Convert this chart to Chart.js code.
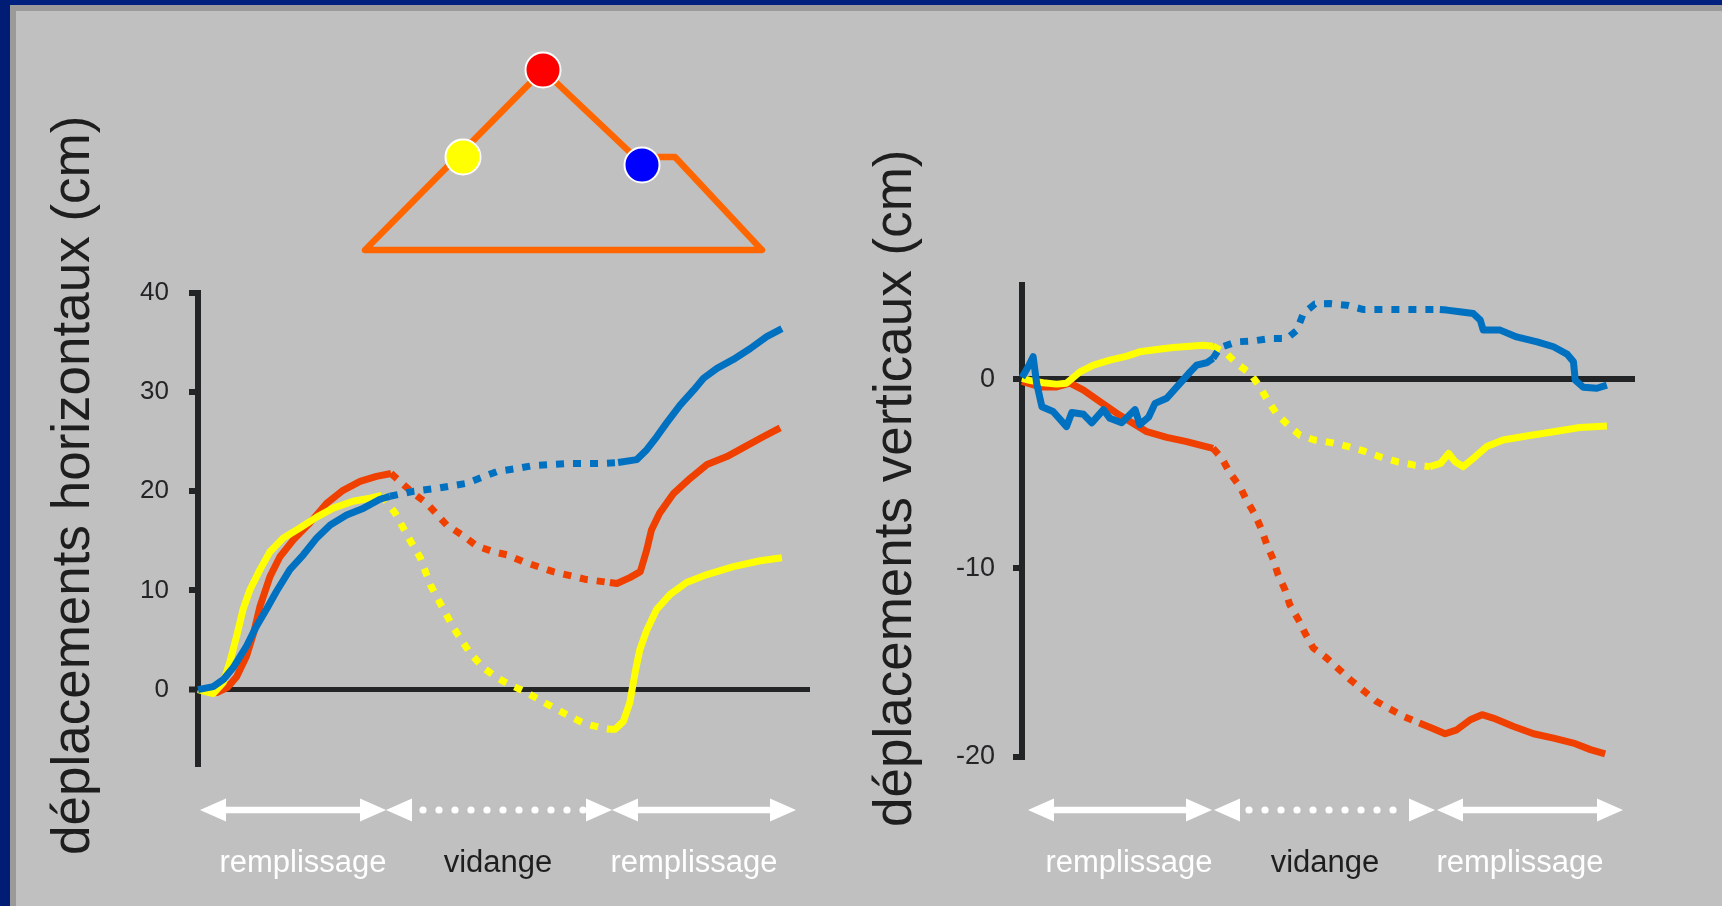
<!DOCTYPE html>
<html><head><meta charset="utf-8">
<script src="https://cdn.jsdelivr.net/npm/chart.js@4.4.1/dist/chart.umd.min.js"></script>
<style>
html,body{margin:0;padding:0;}
body{width:1722px;height:906px;background:#c0c0c0;position:relative;overflow:hidden;font-family:'Liberation Sans',Arial,sans-serif;}
.bar{position:absolute;}
canvas{position:absolute;top:0;}
.ytitle{position:absolute;transform:rotate(-90deg);transform-origin:0 0;white-space:nowrap;font-size:53px;line-height:53px;color:#1e1e1e;}
.phase{position:absolute;top:846px;font-size:31px;line-height:31px;white-space:nowrap;transform:translateX(-50%);}
.w{color:#ffffff;} .d{color:#1e1e1e;}
svg{position:absolute;left:0;top:0;}
</style>
</head><body>
<div class="bar" style="left:0;top:0;width:1722px;height:5px;background:#00207f"></div>
<div class="bar" style="left:10px;top:5px;width:1712px;height:6px;background:#9a9a9a"></div>
<div class="bar" style="left:0;top:0;width:10px;height:906px;background:#001c74"></div>
<div class="bar" style="left:10px;top:5px;width:6px;height:901px;background:#9a9a9a"></div>

<canvas id="cL" width="860" height="906" style="left:0"></canvas>
<canvas id="cR" width="862" height="906" style="left:860px"></canvas>

<svg width="1722" height="906" viewBox="0 0 1722 906">
  <polygon points="365,250 543,70 635,157 675,157 762,250" fill="none" stroke="#ff6600" stroke-width="6.5" stroke-linejoin="round"/>
  <circle cx="543" cy="70" r="17.5" fill="#ff0000" stroke="#ffffff" stroke-width="2"/>
  <circle cx="463" cy="157" r="17.5" fill="#ffff00" stroke="#ffffff" stroke-width="2"/>
  <circle cx="642" cy="165" r="17.5" fill="#0000ff" stroke="#ffffff" stroke-width="2"/>
  <g id="arrows" fill="#ffffff"></g>
</svg>

<div class="ytitle" style="left:44px;top:855px">déplacements horizontaux (cm)</div>
<div class="ytitle" style="left:866px;top:827px">déplacements verticaux (cm)</div>

<div class="phase w" style="left:303px">remplissage</div>
<div class="phase d" style="left:498px">vidange</div>
<div class="phase w" style="left:694px">remplissage</div>
<div class="phase w" style="left:1129px">remplissage</div>
<div class="phase d" style="left:1325px">vidange</div>
<div class="phase w" style="left:1520px">remplissage</div>

<script>
// ---------- DATA (left chart: horizontal displacements, cm) ----------
const leftTicks = [0, 10, 20, 30, 40];
const leftBlueT = [0,2.6,4.3,6.0,8.3,10.0,11.7,13.4,15.7,18.0,20.3,22.6,25.4,28.3,31.1,32.8,36.8,40.8,45.9,51.1,54.5,57.3,63.0,68.7,71.8,75.0,76.7,78.4,80.1,82.4,84.7,86.4,88.7,91.5,94.4,97.2,99.8];
const leftBlueV = [0,0.3,1.0,2.2,4.4,6.4,8.1,9.9,12.1,13.6,15.3,16.6,17.6,18.3,19.2,19.5,20.0,20.3,20.8,22.0,22.3,22.6,22.8,22.8,22.9,23.2,24.2,25.5,26.9,28.7,30.2,31.4,32.4,33.3,34.4,35.6,36.4];
const leftRedT = [0,3.2,5.0,6.6,8.3,9.5,10.6,12.3,14.0,16.3,19.1,22.0,24.8,27.7,30.5,33.0,34.5,36.8,39.1,42.5,45.4,47.6,50.5,52.8,55.6,60.7,66.4,70.4,71.6,73.8,75.6,76.7,77.5,78.9,81.3,84.1,87.0,90.4,93.2,96.6,99.5];
const leftRedV = [0,-0.3,0.2,1.3,3.4,5.7,8.4,11.4,13.4,15.1,16.8,18.8,20.1,21.0,21.5,21.8,21.0,19.8,18.8,16.6,15.5,14.5,13.9,13.6,12.9,11.9,11.1,10.8,10.7,11.3,11.9,14.1,16.1,17.8,19.8,21.3,22.7,23.5,24.4,25.5,26.4];
const leftYellowT = [0,2.6,4.3,5.4,6.6,7.7,8.9,10.6,12.3,14.6,17.4,20.3,23.1,26.5,29.4,31.4,33.7,36.3,38.0,39.7,41.4,43.7,46.5,48.8,51.1,53.3,56.2,60.7,65.9,69.3,70.4,71.3,72.7,73.8,74.7,75.5,76.7,78.4,80.7,83.5,87.0,91.5,96.1,99.8];
const leftYellowV = [0,-0.4,0.7,2.7,5.4,8.1,10.1,12.1,13.9,15.3,16.3,17.4,18.3,19.0,19.3,19.6,17.8,15.0,13.3,10.6,8.7,6.2,3.7,2.2,1.2,0.5,-0.3,-1.8,-3.4,-3.9,-4.0,-4.0,-3.2,-1.3,1.7,4.0,6.0,8.1,9.6,10.8,11.6,12.4,13.0,13.3];
// phase limits [end of first filling, end of draining]
const leftBluePhase = [32.8, 71.8];
const leftRedPhase = [33.0, 70.4];
const leftYellowPhase = [31.4, 70.4];

// ---------- DATA (right chart: vertical displacements, cm) ----------
const rightTicks = [0, -10, -20];
const rightBlueT = [0,1.1,1.9,2.5,3.4,5.3,7.6,8.5,10.5,11.9,13.9,15.0,17.0,19.3,20.1,21.6,22.7,24.7,27.0,28.7,29.8,31.5,32.6,33.8,36.6,39.5,42.3,45.2,46.9,48.0,50.0,52.3,55.4,58.3,63.9,69.6,71.3,72.5,74.7,77.0,78.2,78.7,81.6,84.4,87.9,90.7,93.0,94.1,94.4,95.8,98.1,99.8];
const rightBlueV = [0.1,0.7,1.2,-0.2,-1.45,-1.7,-2.5,-1.75,-1.85,-2.3,-1.6,-2.06,-2.3,-1.6,-2.4,-2.0,-1.27,-1.0,-0.2,0.4,0.76,0.88,1.11,1.69,1.99,2.04,2.17,2.17,2.6,3.49,4.0,4.02,3.93,3.7,3.7,3.7,3.7,3.67,3.58,3.49,3.14,2.61,2.61,2.25,1.99,1.73,1.34,0.93,-0.04,-0.42,-0.47,-0.3];
const rightRedT = [0,3.1,5.9,8.2,10.5,13.3,16.2,19.0,21.3,24.7,28.1,30.4,32.6,34.1,35.5,37.2,38.3,39.8,40.9,41.8,42.9,43.7,44.9,45.7,47.2,48.3,49.7,52.0,56.0,60.5,65.1,67.8,70.2,72.2,74.2,76.5,78.5,80.4,83.9,87.3,90.7,94.1,97.0,99.5];
const rightRedV = [-0.1,-0.4,-0.4,-0.2,-0.57,-1.18,-1.8,-2.33,-2.77,-3.07,-3.3,-3.48,-3.65,-4.18,-4.97,-5.68,-6.39,-7.18,-7.97,-8.77,-9.56,-10.35,-11.15,-11.94,-12.74,-13.44,-14.23,-14.76,-15.9,-17.06,-17.85,-18.2,-18.5,-18.77,-18.56,-18.03,-17.76,-17.94,-18.38,-18.77,-19.0,-19.26,-19.61,-19.83];
const rightYellowT = [0,1.3,3.6,5.9,7.6,9.9,12.2,15.0,17.9,20.1,23.0,25.8,28.7,30.9,32.6,34.9,36.6,38.9,40.6,41.7,43.4,45.4,47.4,49.9,52.8,55.7,58.3,61.1,64.0,66.8,69.6,71.4,72.8,73.9,75.3,77.0,79.3,82.1,86.1,90.7,95.2,99.8];
const rightYellowV = [0.05,-0.05,-0.18,-0.25,-0.2,0.4,0.76,1.02,1.23,1.46,1.58,1.69,1.76,1.81,1.76,1.37,0.85,0.32,-0.39,-1.0,-1.8,-2.42,-2.95,-3.21,-3.35,-3.56,-3.79,-4.1,-4.36,-4.53,-4.62,-4.45,-3.92,-4.36,-4.62,-4.18,-3.56,-3.21,-3.0,-2.77,-2.55,-2.47];
const rightBluePhase = [32.6, 71.3];
const rightRedPhase = [32.6, 67.8];
const rightYellowPhase = [32.6, 69.6];

const BLUE = '#0070c0', RED = '#f04000', YELLOW = '#ffff00', AXIS = '#222426';
const X_MAX = 104.6;
const AXIS_W = 90;

function ds(ts, vs, color, ph) {
  return {
    data: ts.map((t, i) => ({x: t, y: vs[i]})),
    borderColor: color, backgroundColor: color, borderWidth: 7,
    pointRadius: 0, tension: 0, clip: false, fill: false,
    borderCapStyle: 'butt', borderJoinStyle: 'round',
    segment: {
      borderDash: ctx => (ctx.p0.parsed.x >= ph[0] - 1e-6 && ctx.p1.parsed.x <= ph[1] + 1e-6) ? [8, 9] : []
    }
  };
}

function yScale(min, max, ticksArr, fontSize, pad, zeroW) {
  return {
    type: 'linear', min: min, max: max,
    afterBuildTicks: s => { s.ticks = ticksArr.map(v => ({value: v})); },
    afterFit: s => { s.width = AXIS_W; },
    ticks: { color: AXIS, padding: pad, font: {family: "'Liberation Sans', Arial, sans-serif", size: fontSize} },
    grid: {
      drawOnChartArea: true, drawTicks: true, tickLength: 9,
      color: c => (c.tick && c.tick.value === 0) ? AXIS : 'rgba(0,0,0,0)',
      lineWidth: c => (c.tick && c.tick.value === 0) ? zeroW : 0,
      tickColor: AXIS, tickWidth: 6
    },
    border: { display: true, color: AXIS, width: 6 }
  };
}

function makeChart(id, datasets, padding, yopts) {
  return new Chart(document.getElementById(id), {
    type: 'line',
    data: { datasets: datasets },
    options: {
      responsive: false, animation: false, devicePixelRatio: 1, events: [],
      layout: { padding: padding },
      plugins: { legend: {display: false}, tooltip: {enabled: false} },
      scales: {
        x: { type: 'linear', min: 0, max: X_MAX, display: false },
        y: yopts
      }
    }
  });
}

makeChart('cL', [
  ds(leftBlueT, leftBlueV, BLUE, leftBluePhase),
  ds(leftYellowT, leftYellowV, YELLOW, leftYellowPhase),
  ds(leftRedT, leftRedV, RED, leftRedPhase)
], {left: 198 - AXIS_W, right: 50, top: 293, bottom: 142}, yScale(-7.5, 40, leftTicks, 26, 20, 5));

makeChart('cR', [
  ds(rightBlueT, rightBlueV, BLUE, rightBluePhase),
  ds(rightYellowT, rightYellowV, YELLOW, rightYellowPhase),
  ds(rightRedT, rightRedV, RED, rightRedPhase)
], {left: 162 - AXIS_W, right: 87, top: 285, bottom: 149}, yScale(-20, 5, rightTicks, 27, 18, 6));

// ---------- phase arrows (decoration) ----------
const NS = 'http://www.w3.org/2000/svg';
const g = document.getElementById('arrows');
const AY = 810, HL = 26, HH = 11.5, SH = 3.3;
function poly(pts) { const p = document.createElementNS(NS, 'polygon'); p.setAttribute('points', pts.map(a => a.join(',')).join(' ')); g.appendChild(p); }
function solidArrow(x1, x2) {
  poly([[x1,AY],[x1+HL,AY-HH],[x1+HL,AY-SH],[x2-HL,AY-SH],[x2-HL,AY-HH],[x2,AY],[x2-HL,AY+HH],[x2-HL,AY+SH],[x1+HL,AY+SH],[x1+HL,AY+HH]]);
}
function dottedArrow(x1, x2, d0, n) {
  poly([[x1,AY],[x1+HL,AY-HH],[x1+HL,AY+HH]]);
  poly([[x2,AY],[x2-HL,AY-HH],[x2-HL,AY+HH]]);
  for (let i = 0; i < n; i++) {
    const c = document.createElementNS(NS, 'circle');
    c.setAttribute('cx', d0 + 16 * i); c.setAttribute('cy', AY); c.setAttribute('r', 3.6);
    g.appendChild(c);
  }
}
solidArrow(200, 386); dottedArrow(386, 612, 423, 11); solidArrow(612, 796);
solidArrow(1028, 1212); dottedArrow(1214, 1435, 1249, 10); solidArrow(1437, 1623);
</script>
</body></html>
